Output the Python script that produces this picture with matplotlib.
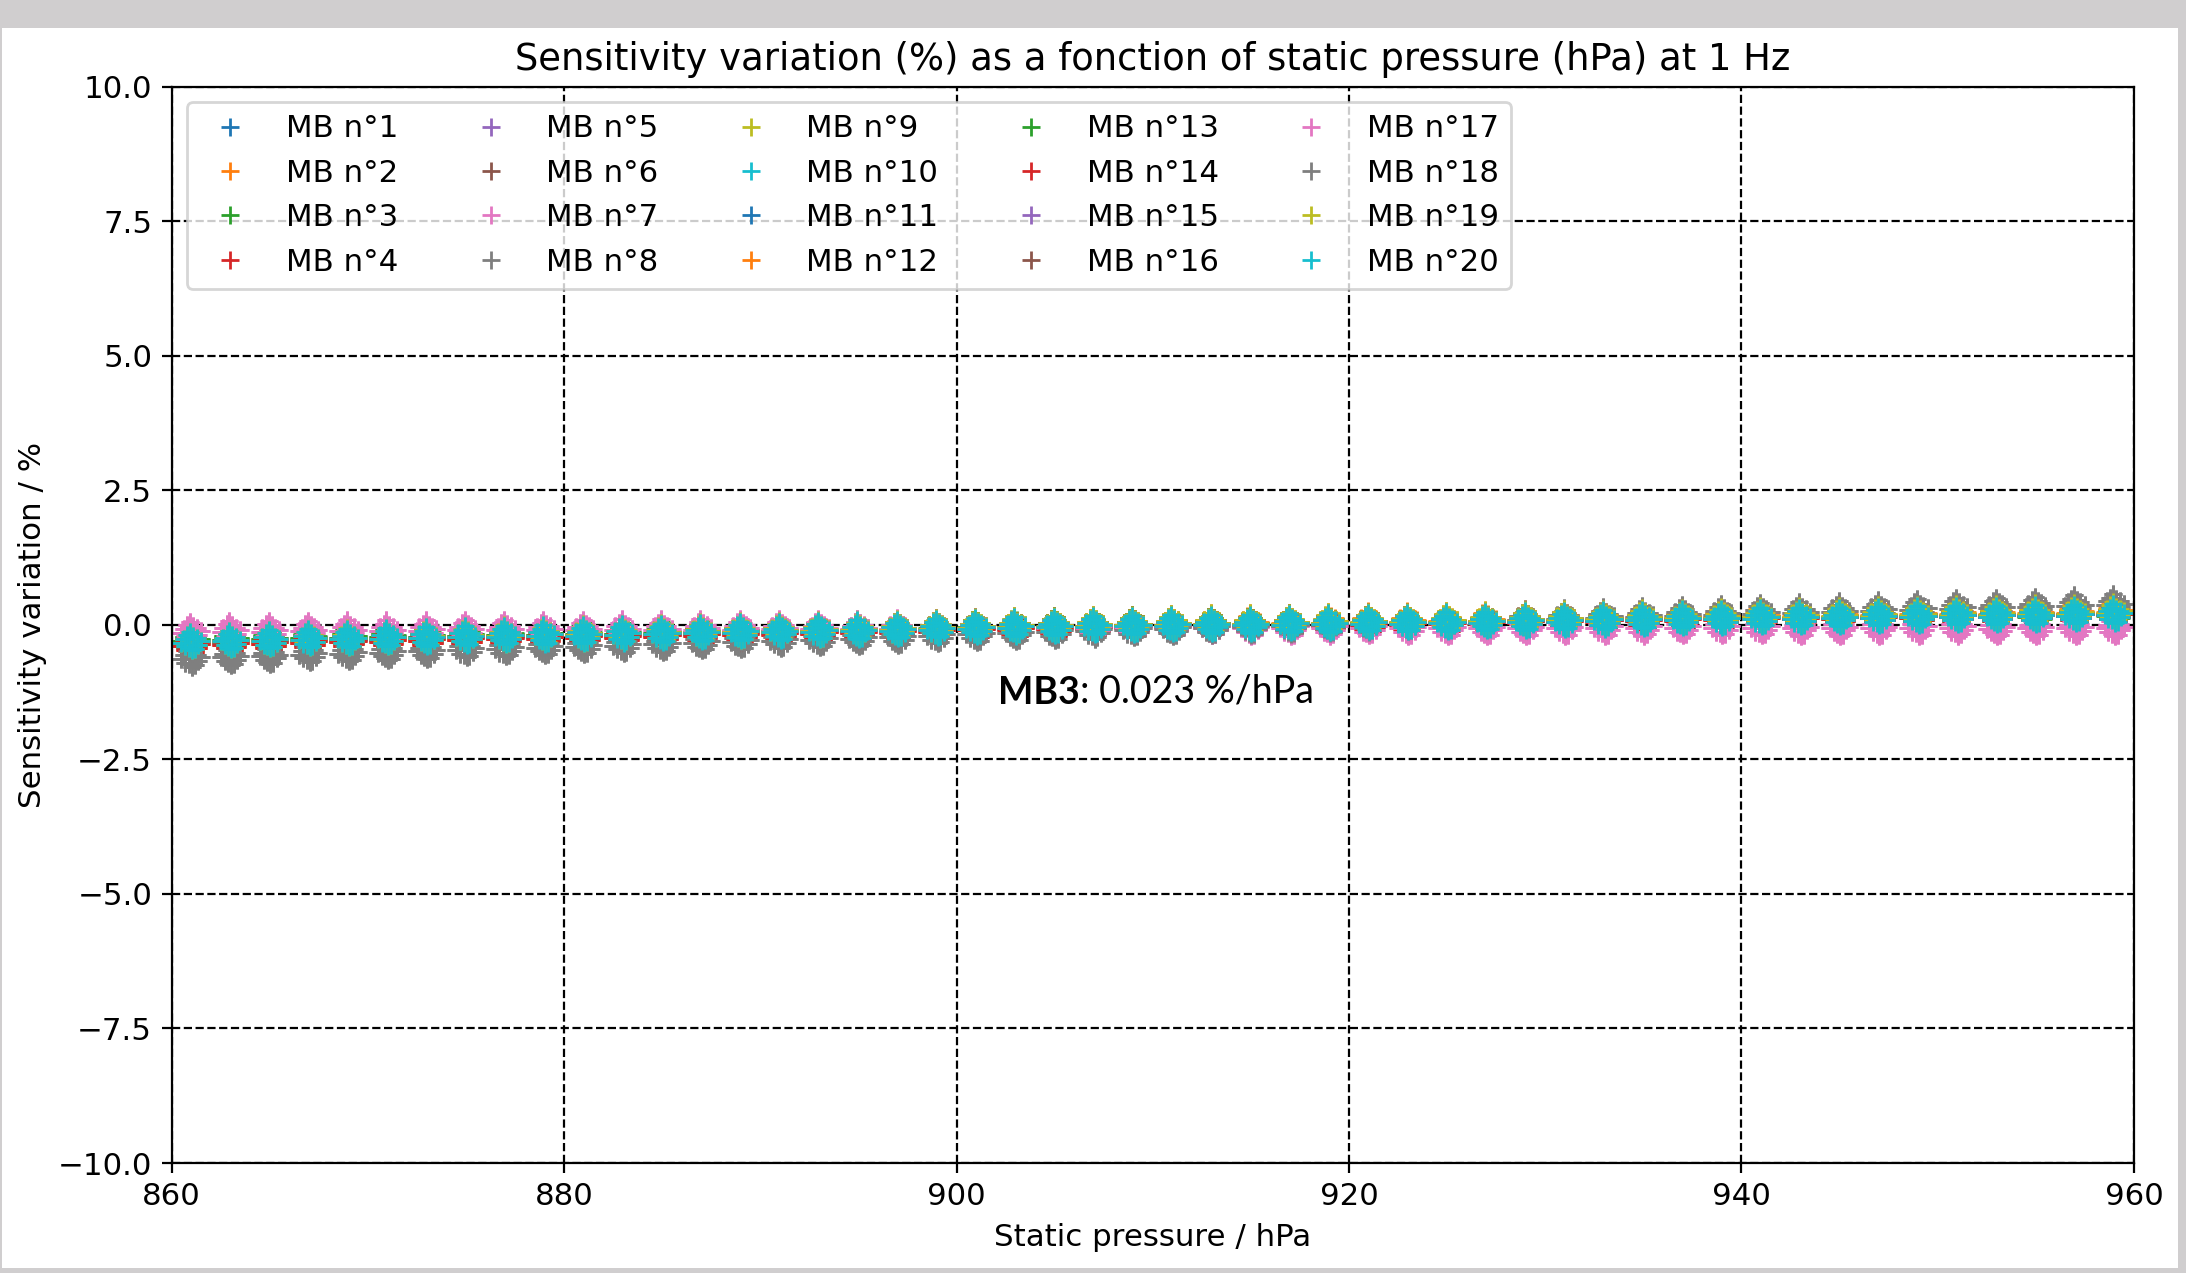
"""
Sensitivity variation of the MB microphones vs static pressure at 1 Hz
"""
import numpy as np
import matplotlib.pyplot as plt
from matplotlib.patches import Rectangle

# pressure set points (hPa), one cluster of points each
setpoints = [861, 863, 865, 867, 869, 871, 873, 875, 877, 879,
             881, 883, 885, 887, 889, 891, 893, 895, 897, 899,
             901, 903, 905, 907, 909, 911, 913, 915, 917, 919,
             921, 923, 925, 927, 929, 931, 933, 935, 937, 939,
             941, 943, 945, 947, 949, 951, 953, 955, 957, 959]
# cluster centre (%)
mean_variation = [-0.32, -0.30, -0.29, -0.27, -0.26, -0.25, -0.24, -0.22, -0.21, -0.20,
                  -0.19, -0.18, -0.17, -0.15, -0.14, -0.13, -0.12, -0.11, -0.10, -0.08,
                  -0.06, -0.05, -0.04, -0.03, -0.02, -0.01, 0.00, 0.00, 0.01, 0.02,
                  0.03, 0.03, 0.04, 0.05, 0.06, 0.07, 0.08, 0.09, 0.10, 0.11,
                  0.12, 0.12, 0.13, 0.14, 0.15, 0.16, 0.16, 0.17, 0.18, 0.19]
# per-board slope deviation from the mean (%/hPa) and bias (%), around 910 hPa
mb_labels = ['MB n°%d' % i for i in range(1, 21)]
mb_slope_dev = [0.0004, 0.0007, -0.0003, 0.0006, -0.0002, 0.0004, -0.0044, 0.0050, 0.0002, 0.0,
                0.0003, 0.0008, -0.0004, 0.0006, 0.0, 0.0003, -0.0044, 0.0050, 0.0004, 0.0]
mb_bias = [0.01, -0.02, 0.02, -0.03, 0.01, 0.0, -0.03, -0.06, 0.02, 0.0,
           -0.01, 0.02, 0.01, -0.03, 0.0, 0.01, -0.03, -0.06, 0.02, 0.0]
# repeated readings around each set point (pressure drift / scatter)
rep_dp = [-0.5, -0.38, -0.3, -0.2, -0.12, -0.05, 0.03, 0.1, 0.18, 0.27, 0.35, 0.48]
rep_dv = [-0.01, 0.06, -0.08, 0.13, -0.11, 0.19, -0.15, 0.11, -0.13, 0.07, -0.05, 0.02]

plt.rcParams['font.size'] = 11.1
plt.rcParams['lines.markersize'] = 6.6
colors = plt.rcParams['axes.prop_cycle'].by_key()['color']

fig = plt.figure(figsize=(10.93, 6.365), dpi=200, facecolor='#d0cecf')
fig.patches.append(Rectangle((2/2186, 5/1273), 2176/2186, 1240/1273,
                             transform=fig.transFigure, facecolor='white',
                             edgecolor='none', zorder=-5))
ax = fig.add_axes([0.0785, 0.0864, 0.8977, 0.8456])

p0 = np.array(setpoints, dtype=float)
m0 = np.array(mean_variation)
for i, lab in enumerate(mb_labels):
    x = (p0[:, None] + np.array(rep_dp)[None, :]).ravel()
    y = (m0[:, None] + mb_bias[i] + mb_slope_dev[i]*(p0[:, None] - 910)
         + np.array(rep_dv)[None, :]).ravel()
    ax.plot(x, y, '+', color=colors[i % 10], label=lab)

ax.set_xlim(860, 960)
ax.set_ylim(-10, 10)
ax.set_yticks(np.arange(-10, 10.1, 2.5))
ax.grid(True, color='k', linestyle='--', linewidth=0.8)
ax.set_title('Sensitivity variation (%) as a fonction of static pressure (hPa) at 1 Hz',
             fontsize=13.3)
ax.set_xlabel('Static pressure / hPa')
ax.set_ylabel('Sensitivity variation / %')
ax.legend(loc='upper left', ncol=5)

t1 = ax.text(0.4565, 0.447, 'MB3', transform=fig.transFigure, family='Lato',
             fontweight='bold', fontsize=13.5, va='baseline')
ax.annotate(': 0.023 %/hPa', xy=(1, 0), xycoords=t1, family='Lato',
            fontsize=13.5, va='bottom')

fig.savefig('out.png', dpi=200, facecolor=fig.get_facecolor())
